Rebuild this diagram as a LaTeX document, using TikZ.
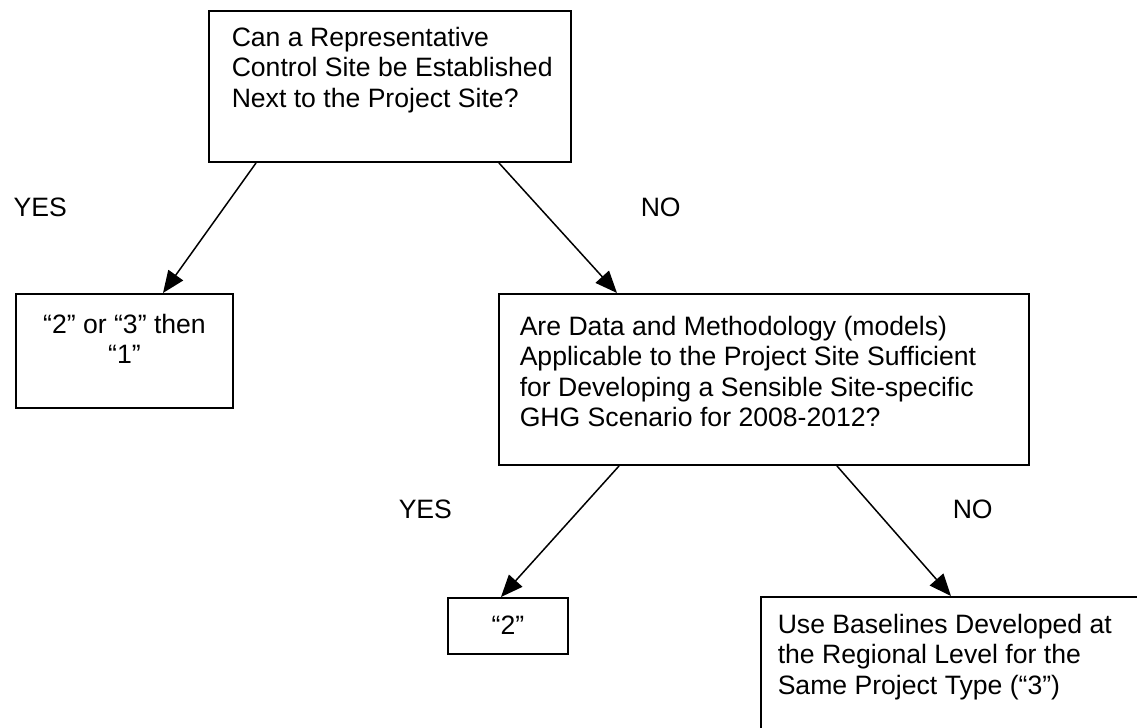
\documentclass[tikz,border=0pt]{standalone}
\usepackage{fontspec}
\setmainfont{Liberation Sans}
\usetikzlibrary{arrows.meta}

\begin{document}
\begin{tikzpicture}[x=0.5pt,y=-0.5pt, line width=0.75pt,
    box/.style={draw, line width=1pt, inner sep=0pt},
    txt/.style={inner sep=0pt, font=\fontsize{13.3pt}{15.3pt}\selectfont},
    lbl/.style={inner sep=0pt, anchor=west, font=\fontsize{13.3pt}{15.3pt}\selectfont},
    >={Triangle[length=11pt,width=9pt]}]
    \useasboundingbox (0,0) rectangle (1137,728);
    \clip (0,0) rectangle (1137,728);
    % boxes
    \node[box, minimum width=181pt, minimum height=75.5pt] (q1) at (390,86.5) {};
    \node[box, minimum width=108.5pt, minimum height=57pt] (r1) at (124.5,351) {};
    \node[box, minimum width=265pt, minimum height=85.5pt] (q2) at (764,379.5) {};
    \node[box, minimum width=60pt, minimum height=28pt] (r2) at (508,626) {};
    \node[box, minimum width=199.5pt, minimum height=81.5pt] (r3) at (960.5,678.5) {};
    % texts
    \node[txt, anchor=north west, align=left] (q1t) at (231,26)
        {Can a Representative\\Control Site be Established\\Next to the Project Site?};
    \node[txt, anchor=north, align=center] (r1t) at (124.5,313)
        {“2” or “3” then\\“1”};
    \node[txt, anchor=north west, align=left] (q2t) at (519,315)
        {Are Data and Methodology (models)\\Applicable to the Project Site Sufficient\\for Developing a Sensible Site-specific\\GHG Scenario for 2008-2012?};
    \node[txt] (r2t) at (508,625) {“2”};
    \node[txt, anchor=north west, align=left] (r3t) at (777,613)
        {Use Baselines Developed at\\the Regional Level for the\\Same Project Type (“3”)};
    % labels
    \node[lbl] (yes1) at (13,207) {YES};
    \node[lbl] (no1) at (640,207) {NO};
    \node[lbl] (yes2) at (398,509) {YES};
    \node[lbl] (no2) at (952,509) {NO};
    % arrows
    \draw[->] ([xshift=24pt]q1.south west) -- ([xshift=74pt]r1.north west);
    \draw[->] ([xshift=145.5pt]q1.south west) -- ([xshift=59.5pt]q2.north west);
    \draw[->] ([xshift=60.5pt]q2.south west) -- ([xshift=27pt]r2.north west);
    \draw[->] ([xshift=169.5pt]q2.south west) -- ([xshift=95.5pt]r3.north west);
\end{tikzpicture}
\end{document}
